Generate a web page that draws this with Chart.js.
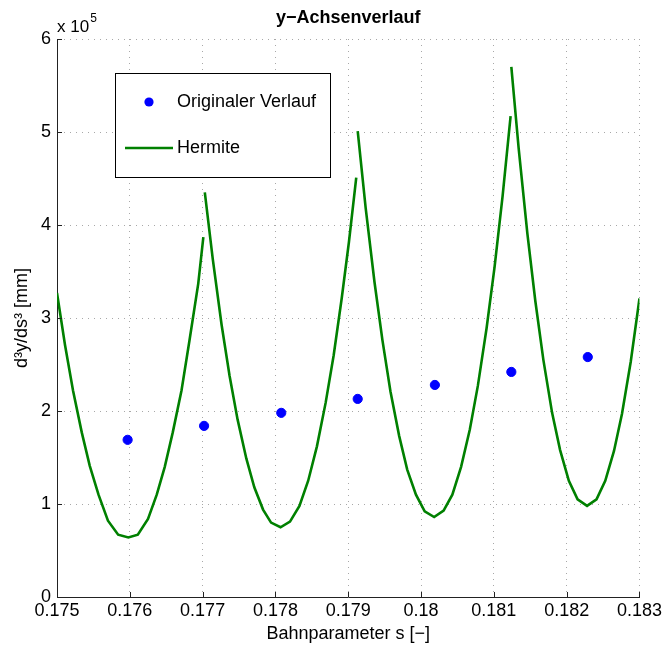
<!DOCTYPE html>
<html>
<head>
<meta charset="utf-8">
<script src="https://cdn.jsdelivr.net/npm/chart.js@4.4.0/dist/chart.umd.min.js"></script>
<style>
  html, body { margin: 0; padding: 0; background: #fff; }
  #wrap { width: 665px; height: 646px; }
</style>
</head>
<body>
<div id="wrap"><canvas id="yChart" width="665" height="646"></canvas></div>
<script>
// values are in units of 10^5 mm (axis shows "x 10^5")
const origS = [0.17597, 0.17702, 0.17808, 0.17913, 0.18019, 0.18124, 0.18229];
const origVal = [1.69, 1.84, 1.98, 2.13, 2.28, 2.42, 2.58];

// Hermite curve, four separate pieces (jumps at the knots)
const seg1S = [0.17500, 0.17511, 0.17522, 0.17534, 0.17545, 0.17557, 0.17570, 0.17584, 0.17598,
  0.17611, 0.17625, 0.17637, 0.17648, 0.17659, 0.17671, 0.17682, 0.17694, 0.17701];
const seg1Val = [3.27, 2.71, 2.22, 1.77, 1.41, 1.10, 0.82, 0.67, 0.64,
  0.67, 0.84, 1.10, 1.40, 1.77, 2.22, 2.76, 3.37, 3.87];

const seg2S = [0.17703, 0.17714, 0.17726, 0.17737, 0.17748, 0.17760, 0.17771, 0.17783, 0.17794, 0.17807,
  0.17820, 0.17833, 0.17845, 0.17857, 0.17869, 0.17880, 0.17891, 0.17901, 0.17911];
const seg2Val = [4.35, 3.63, 2.93, 2.38, 1.91, 1.49, 1.18, 0.94, 0.80, 0.75,
  0.81, 0.98, 1.25, 1.62, 2.09, 2.60, 3.21, 3.82, 4.51];

const seg3S = [0.17913, 0.17924, 0.17936, 0.17947, 0.17958, 0.17970, 0.17981, 0.17993, 0.18005, 0.18018,
  0.18031, 0.18043, 0.18055, 0.18067, 0.18078, 0.18090, 0.18101, 0.18112, 0.18123];
const seg3Val = [5.01, 4.18, 3.39, 2.76, 2.21, 1.73, 1.37, 1.10, 0.92, 0.86,
  0.93, 1.10, 1.40, 1.80, 2.27, 2.89, 3.55, 4.31, 5.17];

const seg4S = [0.18124, 0.18134, 0.18146, 0.18157, 0.18168, 0.18180, 0.18191, 0.18203, 0.18215, 0.18228,
  0.18241, 0.18253, 0.18265, 0.18276, 0.18288, 0.18300];
const seg4Val = [5.70, 4.83, 3.91, 3.18, 2.55, 1.98, 1.58, 1.25, 1.05, 0.98,
  1.05, 1.25, 1.57, 1.97, 2.53, 3.21];

const xTicks = [0.175, 0.176, 0.177, 0.178, 0.179, 0.18, 0.181, 0.182, 0.183];
const yTicks = [0, 1, 2, 3, 4, 5, 6];

const FONT = 'Liberation Sans, Arial, Helvetica, sans-serif';
const GREEN = '#008000';
const BLUE = '#0000ff';

const toPoints = (xs, ys) => xs.map((x, i) => ({ x: x, y: ys[i] }));

const segments = [[seg1S, seg1Val], [seg2S, seg2Val], [seg3S, seg3Val], [seg4S, seg4Val]];

const hermiteSets = segments.map(([xs, ys], i) => ({
  label: i === 0 ? 'Hermite' : 'Hermite ' + (i + 1),
  data: toPoints(xs, ys),
  showLine: true,
  borderColor: GREEN,
  borderWidth: 2.6,
  pointRadius: 0,
  tension: 0,
  order: 2,
}));

// title, exponent label, inward ticks and legend box
const extras = {
  id: 'extras',
  afterDraw(chart) {
    const ctx = chart.ctx;
    const area = chart.chartArea;
    const xs = chart.scales.x;
    const ys = chart.scales.y;
    ctx.save();

    // inward tick marks
    ctx.strokeStyle = '#222';
    ctx.lineWidth = 1;
    ctx.beginPath();
    xTicks.forEach((v) => {
      const px = Math.round(xs.getPixelForValue(v)) + 0.5;
      ctx.moveTo(px, area.bottom);
      ctx.lineTo(px, area.bottom - 5);
    });
    yTicks.forEach((v) => {
      const py = Math.round(ys.getPixelForValue(v)) + 0.5;
      ctx.moveTo(area.left, py);
      ctx.lineTo(area.left + 5, py);
    });
    ctx.stroke();

    // title
    ctx.fillStyle = '#000';
    ctx.textAlign = 'center';
    ctx.textBaseline = 'middle';
    ctx.font = 'bold 18px ' + FONT;
    ctx.fillText('y\u2212Achsenverlauf', (area.left + area.right) / 2, 18);

    // exponent
    ctx.textAlign = 'left';
    ctx.font = '17px ' + FONT;
    ctx.fillText('x 10', area.left, 27);
    const w = ctx.measureText('x 10').width;
    ctx.font = '12px ' + FONT;
    ctx.fillText('5', area.left + w + 1, 19);

    // legend
    const bx = 115, by = 73, bw = 215, bh = 104;
    ctx.fillStyle = '#fff';
    ctx.fillRect(bx, by, bw, bh);
    ctx.strokeStyle = '#000';
    ctx.lineWidth = 1;
    ctx.strokeRect(bx + 0.5, by + 0.5, bw, bh);

    ctx.fillStyle = BLUE;
    ctx.beginPath();
    ctx.arc(149, 102, 4.6, 0, Math.PI * 2);
    ctx.fill();

    ctx.strokeStyle = GREEN;
    ctx.lineWidth = 2.6;
    ctx.beginPath();
    ctx.moveTo(125, 148);
    ctx.lineTo(173, 148);
    ctx.stroke();

    ctx.fillStyle = '#000';
    ctx.font = '18px ' + FONT;
    ctx.textBaseline = 'middle';
    ctx.fillText('Originaler Verlauf', 177, 102);
    ctx.fillText('Hermite', 177, 148);

    ctx.restore();
  },
};

const ctx = document.getElementById('yChart').getContext('2d');
new Chart(ctx, {
  type: 'scatter',
  data: {
    datasets: [
      {
        label: 'Originaler Verlauf',
        data: toPoints(origS, origVal),
        backgroundColor: BLUE,
        borderColor: BLUE,
        pointRadius: 4.6,
        pointHoverRadius: 4.6,
        order: 1,
      },
      ...hermiteSets,
    ],
  },
  options: {
    responsive: false,
    animation: false,
    devicePixelRatio: 1,
    layout: { padding: { top: 39, right: 24, left: 0, bottom: 0 } },
    plugins: {
      legend: { display: false },
      tooltip: { enabled: false },
      title: { display: false },
    },
    scales: {
      x: {
        type: 'linear',
        min: 0.175,
        max: 0.183,
        afterFit: (s) => { s.height = 49; },
        afterBuildTicks: (s) => { s.ticks = xTicks.map((v) => ({ value: v })); },
        ticks: {
          color: '#000',
          font: { family: FONT, size: 18 },
          padding: 3,
          maxRotation: 0,
          autoSkip: false,
          callback: (v) => String(Number(v.toFixed(3))),
        },
        grid: { color: '#a8a8a8', lineWidth: 1, drawTicks: false },
        border: { display: true, color: '#222', width: 1, dash: [1, 5] },
        title: {
          display: true,
          text: 'Bahnparameter s [\u2212]',
          color: '#000',
          font: { family: FONT, size: 18 },
          padding: { top: 0, bottom: 1 },
        },
      },
      y: {
        type: 'linear',
        min: 0,
        max: 6,
        afterFit: (s) => { s.width = 57; },
        afterBuildTicks: (s) => { s.ticks = yTicks.map((v) => ({ value: v })); },
        ticks: {
          color: '#000',
          font: { family: FONT, size: 18 },
          padding: 6,
          autoSkip: false,
        },
        grid: { color: '#a8a8a8', lineWidth: 1, drawTicks: false },
        border: { display: true, color: '#222', width: 1, dash: [1, 5] },
        title: {
          display: true,
          text: 'd\u00b3y/ds\u00b3 [mm]',
          color: '#000',
          font: { family: FONT, size: 18 },
          padding: { top: 11, bottom: 0 },
        },
      },
    },
  },
  plugins: [extras],
});
</script>
</body>
</html>
